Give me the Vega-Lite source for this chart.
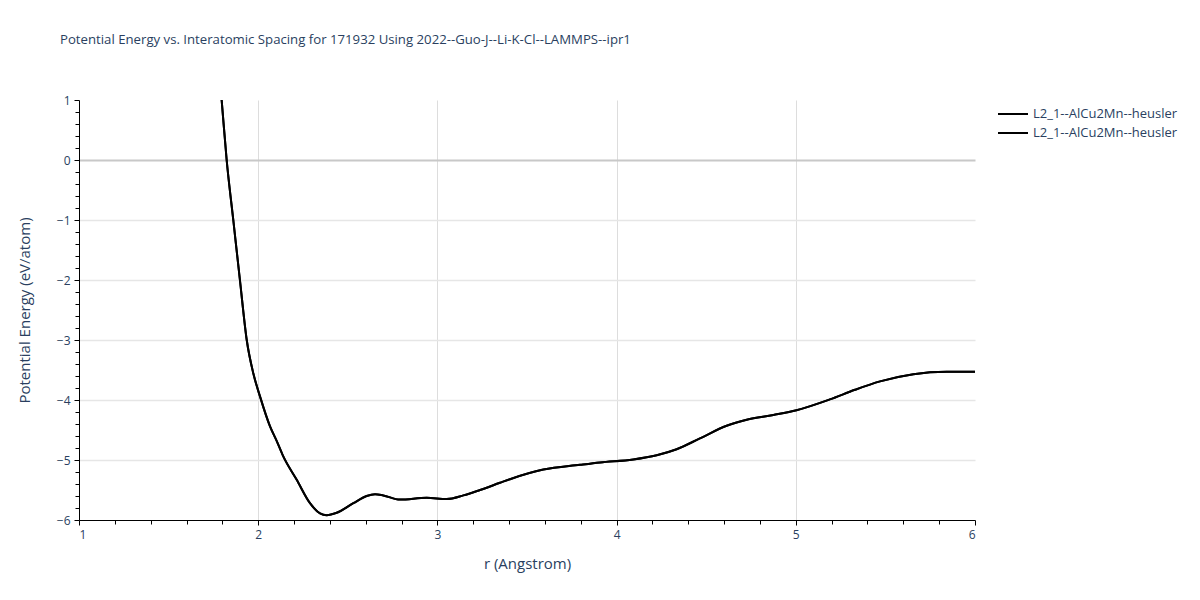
{
  "$schema": "https://vega.github.io/schema/vega-lite/v6.json",
  "width": 896,
  "height": 420,
  "autosize": {"type": "none"},
  "padding": {"left": 79, "top": 100, "right": 225, "bottom": 80},
  "background": "white",
  "title": {
    "text": "Potential Energy vs. Interatomic Spacing for 171932 Using 2022--Guo-J--Li-K-Cl--LAMMPS--ipr1",
    "anchor": "start",
    "frame": "group",
    "dx": -19,
    "offset": 47,
    "font": "Open Sans",
    "fontSize": 13.2,
    "fontWeight": "normal",
    "color": "#2a3f5f"
  },
  "config": {
    "view": {"stroke": null},
    "font": "Open Sans"
  },
  "data": {
    "values": [
      {"r": 1.78, "e": 1.55},
      {"r": 1.796, "e": 1.0},
      {"r": 1.824, "e": 0.0},
      {"r": 1.861, "e": -1.0},
      {"r": 1.898, "e": -2.0},
      {"r": 1.936, "e": -3.0},
      {"r": 1.973, "e": -3.56},
      {"r": 2.01, "e": -3.94},
      {"r": 2.066, "e": -4.44},
      {"r": 2.103, "e": -4.68},
      {"r": 2.14, "e": -4.94},
      {"r": 2.215, "e": -5.33},
      {"r": 2.289, "e": -5.72},
      {"r": 2.345, "e": -5.89},
      {"r": 2.382, "e": -5.92},
      {"r": 2.438, "e": -5.88},
      {"r": 2.531, "e": -5.72},
      {"r": 2.605, "e": -5.6},
      {"r": 2.652, "e": -5.57},
      {"r": 2.698, "e": -5.59},
      {"r": 2.791, "e": -5.66},
      {"r": 2.94, "e": -5.63},
      {"r": 3.052, "e": -5.65},
      {"r": 3.145, "e": -5.59},
      {"r": 3.238, "e": -5.5},
      {"r": 3.349, "e": -5.38},
      {"r": 3.405, "e": -5.32},
      {"r": 3.591, "e": -5.16},
      {"r": 3.796, "e": -5.08},
      {"r": 3.908, "e": -5.04},
      {"r": 4.093, "e": -4.99},
      {"r": 4.224, "e": -4.92},
      {"r": 4.335, "e": -4.82},
      {"r": 4.465, "e": -4.64},
      {"r": 4.614, "e": -4.43},
      {"r": 4.726, "e": -4.33},
      {"r": 4.875, "e": -4.25},
      {"r": 5.004, "e": -4.17},
      {"r": 5.19, "e": -3.99},
      {"r": 5.33, "e": -3.83},
      {"r": 5.47, "e": -3.69},
      {"r": 5.656, "e": -3.57},
      {"r": 5.842, "e": -3.53},
      {"r": 6.0, "e": -3.53}
    ]
  },
  "encoding": {
    "x": {
      "field": "r",
      "type": "quantitative",
      "scale": {"domain": [1, 6], "nice": false, "zero": false},
      "axis": {
        "title": "r (Angstrom)",
        "titleFont": "Open Sans",
        "titleFontSize": 15,
        "titleFontWeight": "normal",
        "titleColor": "#2a3f5f",
        "titlePadding": 16,
        "values": [1, 1.2, 1.4, 1.6, 1.8, 2, 2.2, 2.4, 2.6, 2.8, 3, 3.2, 3.4, 3.6, 3.8, 4, 4.2, 4.4, 4.6, 4.8, 5, 5.2, 5.4, 5.6, 5.8, 6],
        "labelExpr": "abs(datum.value - round(datum.value)) < 0.001 ? format(round(datum.value), 'd') : ''",
        "labelFont": "Open Sans",
        "labelFontSize": 12,
        "labelColor": "#2a3f5f",
        "labelPadding": 4,
        "domainColor": "black",
        "domainWidth": 1,
        "tickColor": "black",
        "tickSize": {"condition": {"test": "abs(datum.value - round(datum.value)) < 0.001", "value": 5}, "value": 4},
        "grid": true,
        "gridColor": "#dddddd",
        "gridWidth": 1,
        "gridOpacity": {"condition": {"test": "abs(datum.value - round(datum.value)) < 0.001 && datum.value > 1.5 && datum.value < 5.5", "value": 1}, "value": 0}
      }
    },
    "y": {
      "field": "e",
      "type": "quantitative",
      "scale": {"domain": [-6, 1], "nice": false, "zero": false},
      "axis": {
        "title": "Potential Energy (eV/atom)",
        "titleFont": "Open Sans",
        "titleFontSize": 15,
        "titleFontWeight": "normal",
        "titleColor": "#2a3f5f",
        "titlePadding": 24,
        "values": [-6, -5.8, -5.6, -5.4, -5.2, -5, -4.8, -4.6, -4.4, -4.2, -4, -3.8, -3.6, -3.4, -3.2, -3, -2.8, -2.6, -2.4, -2.2, -2, -1.8, -1.6, -1.4, -1.2, -1, -0.8, -0.6, -0.4, -0.2, 0, 0.2, 0.4, 0.6, 0.8, 1],
        "labelExpr": "abs(datum.value - round(datum.value)) < 0.001 ? format(round(datum.value), 'd') : ''",
        "labelFont": "Open Sans",
        "labelFontSize": 12,
        "labelColor": "#2a3f5f",
        "labelPadding": 4,
        "domainColor": "black",
        "domainWidth": 1,
        "tickColor": "black",
        "tickSize": {"condition": {"test": "abs(datum.value - round(datum.value)) < 0.001", "value": 5}, "value": 4},
        "grid": true,
        "gridColor": {"condition": {"test": "abs(datum.value) < 0.001", "value": "#c8c8c8"}, "value": "#e6e6e6"},
        "gridWidth": {"condition": {"test": "abs(datum.value) < 0.001", "value": 2}, "value": 1.5},
        "gridOpacity": {"condition": {"test": "abs(datum.value - round(datum.value)) < 0.001 && datum.value > -5.5 && datum.value < 0.5", "value": 1}, "value": 0}
      }
    }
  },
  "layer": [
    {
      "mark": {"type": "line", "clip": true, "strokeWidth": 2, "interpolate": "monotone"},
      "encoding": {
        "color": {
          "datum": "s1",
          "type": "nominal",
          "scale": {"domain": ["s1", "s2"], "range": ["black", "black"]},
          "legend": {
            "title": null,
            "orient": "none",
            "legendX": 918,
            "legendY": 6,
            "symbolType": "stroke",
            "symbolSize": 900,
            "symbolStrokeWidth": 2,
            "labelExpr": "'L2_1--AlCu2Mn--heusler'",
            "labelFont": "Open Sans",
            "labelFontSize": 13,
            "labelColor": "#2a3f5f",
            "rowPadding": 3,
            "labelOffset": 4,
            "clipHeight": 16
          }
        }
      }
    },
    {
      "mark": {"type": "line", "clip": true, "strokeWidth": 2, "interpolate": "monotone"},
      "encoding": {
        "color": {"datum": "s2", "type": "nominal"}
      }
    }
  ]
}
